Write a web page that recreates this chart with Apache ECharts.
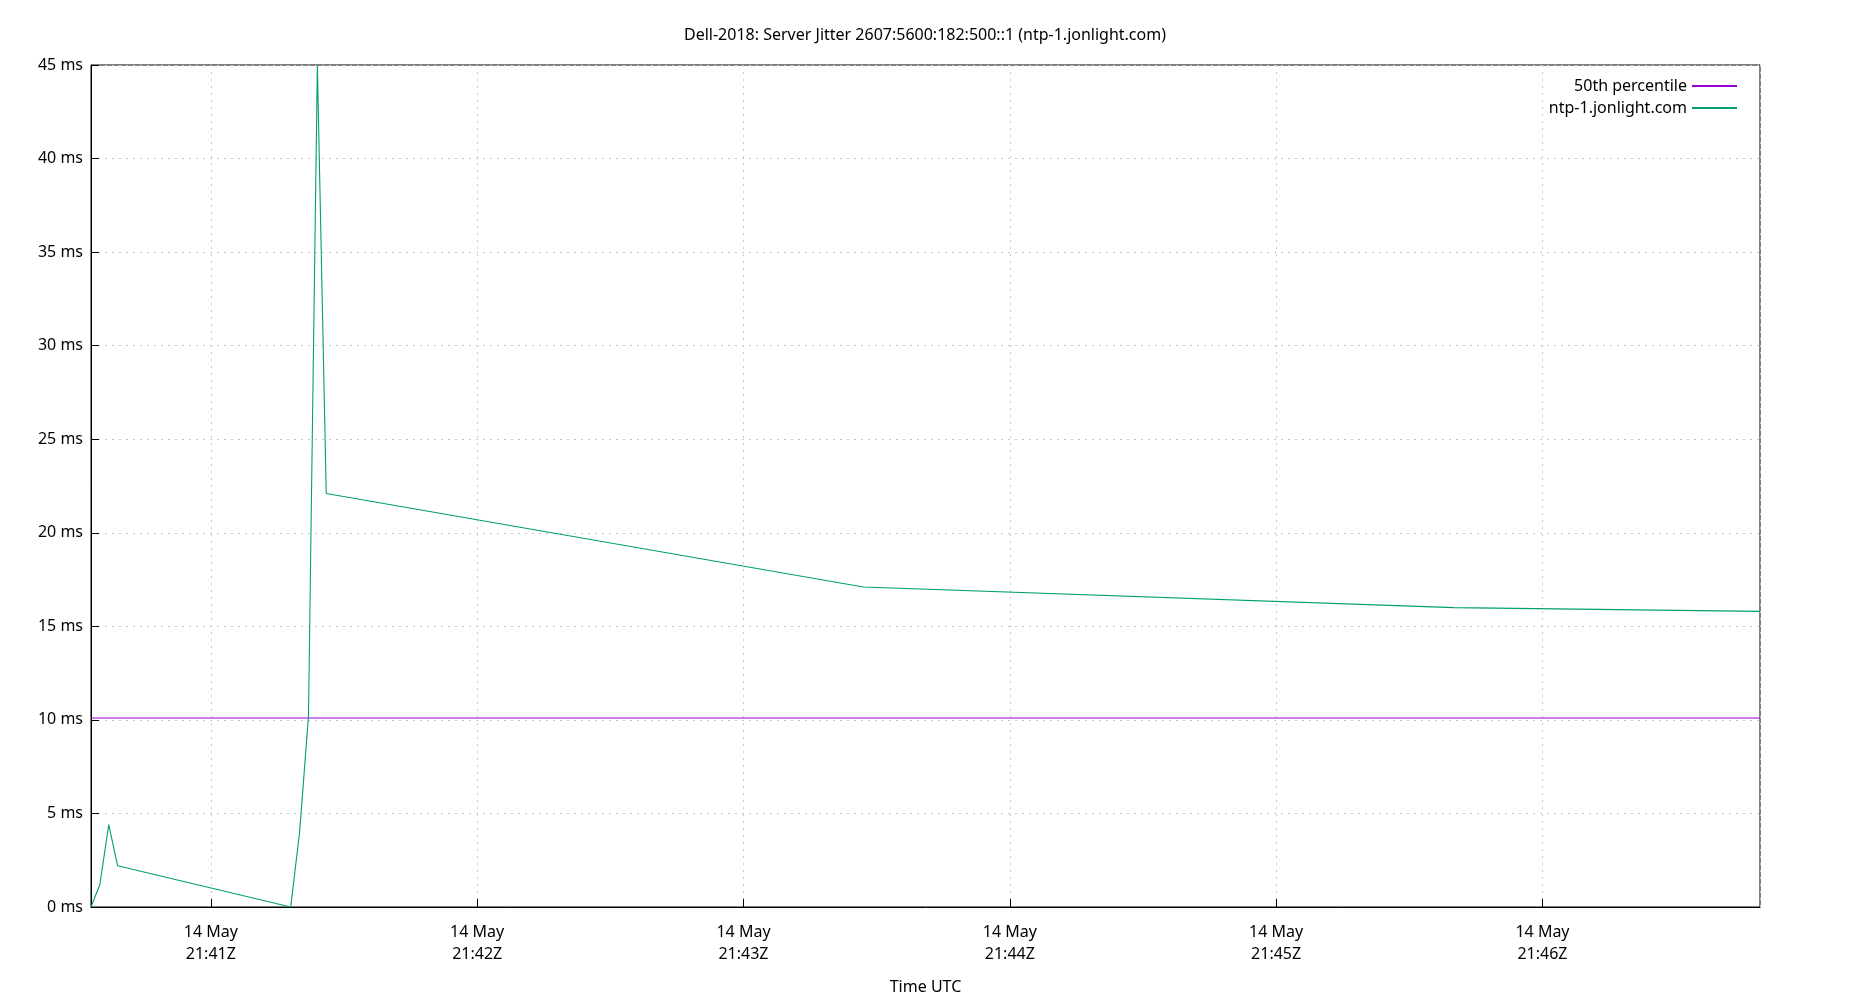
<!DOCTYPE html>
<html><head><meta charset="utf-8">
<script src="https://cdn.jsdelivr.net/npm/echarts@6/dist/echarts.min.js"></script>
<style>html,body{margin:0;padding:0;background:#fff}#c{width:1850px;height:1000px}</style>
</head><body><div id="c"></div>
<script>
const times = ['2024-05-14T21:40:33.4Z','2024-05-14T21:40:35Z','2024-05-14T21:40:37Z','2024-05-14T21:40:39Z','2024-05-14T21:41:18Z','2024-05-14T21:41:20Z','2024-05-14T21:41:22Z','2024-05-14T21:41:24Z','2024-05-14T21:41:26.5Z','2024-05-14T21:43:27Z','2024-05-14T21:45:40Z','2024-05-14T21:46:49.5Z'];
const jitter = [0.0, 1.2, 4.4, 2.2, 0.0, 4.0, 10.2, 45.0, 22.1, 17.1, 16.0, 15.8];
const median = 10.1;
const xMin = '2024-05-14T21:40:33.4Z', xMax = '2024-05-14T21:46:49.5Z';
const months=['Jan','Feb','Mar','Apr','May','Jun','Jul','Aug','Sep','Oct','Nov','Dec'];
const font = 'Noto Sans';
const chart = echarts.init(document.getElementById('c'));
chart.setOption({
  useUTC: true,
  animation: false,
  textStyle:{fontFamily:font},
  title:{text:'Dell-2018: Server Jitter 2607:5600:182:500::1 (ntp-1.jonlight.com)',left:'center',top:22,textStyle:{fontFamily:font,fontSize:16,fontWeight:'normal',color:'#000'}},
  legend:{orient:'vertical',right:108,top:73,align:'right',itemWidth:45,itemHeight:2,itemGap:6,icon:'rect',
    textStyle:{fontFamily:font,fontSize:16,color:'#000'},
    data:['50th percentile','ntp-1.jonlight.com']},
  grid:{left:91,right:90,top:65,bottom:93,show:true,borderColor:'#000',borderWidth:1},
  xAxis:{type:'time',min:xMin,max:xMax,minInterval:60000,maxInterval:60000,
    name:'Time UTC',nameLocation:'middle',nameGap:72,nameTextStyle:{fontFamily:font,fontSize:16,color:'#000'},
    axisLine:{lineStyle:{color:'#000'}},axisTick:{inside:true,length:8,lineStyle:{color:'#000'}},
    axisLabel:{showMinLabel:false,showMaxLabel:false,color:'#000',fontSize:16,fontFamily:font,lineHeight:22,margin:14,
      formatter:v=>{const d=new Date(v);const p=n=>String(n).padStart(2,'0');return d.getUTCDate()+' '+months[d.getUTCMonth()]+'\n'+p(d.getUTCHours())+':'+p(d.getUTCMinutes())+'Z';}},
    splitLine:{show:true,lineStyle:{color:'#c8c8c8',type:[2,5]}}},
  yAxis:{type:'value',min:0,max:45,interval:5,
    axisLine:{show:true,lineStyle:{color:'#000'}},axisTick:{show:true,inside:true,length:8,lineStyle:{color:'#000'}},
    axisLabel:{formatter:'{value} ms',color:'#000',fontSize:16,fontFamily:font,margin:8},
    splitLine:{show:true,lineStyle:{color:'#c8c8c8',type:[2,5]}}},
  series:[
    {name:'50th percentile',type:'line',symbol:'none',color:'#9400d3',lineStyle:{width:1.1},data:[[xMin,median],[xMax,median]]},
    {name:'ntp-1.jonlight.com',type:'line',symbol:'none',color:'#009e73',lineStyle:{width:1.1},data:times.map((t,i)=>[t,jitter[i]])}
  ]
});
</script></body></html>
